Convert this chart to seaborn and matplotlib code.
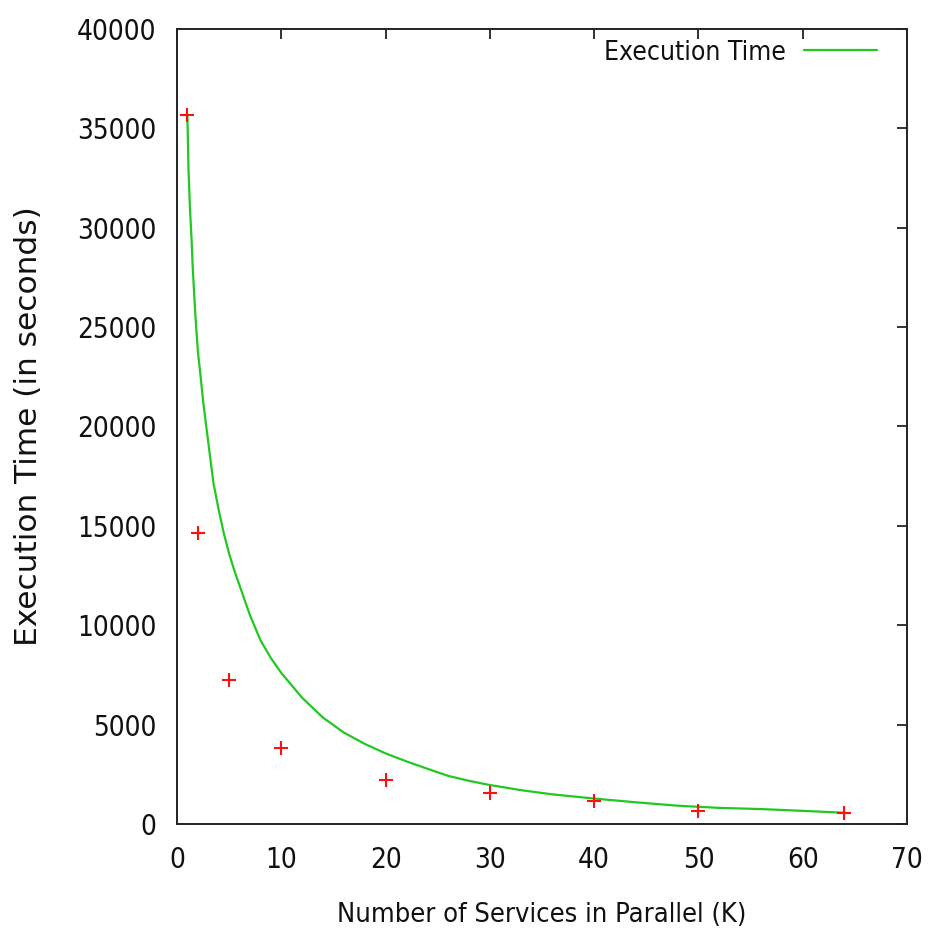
import matplotlib
matplotlib.use("Agg")
import matplotlib.pyplot as plt
import seaborn as sns
import pandas as pd

# Measured execution times for each number of parallel services (K)
services_k = [1, 2, 5, 10, 20, 30, 40, 50, 64]
measured_time = [35650, 14650, 7240, 3810, 2200, 1575, 1170, 655, 570]

# Fitted execution-time curve, sampled along K
curve_k = [1.0, 1.1, 1.25, 1.4, 1.5, 1.75, 2.0, 2.25, 2.5, 2.75, 3.0, 3.5,
           4.0, 4.5, 5.0, 5.5, 6.0, 6.5, 7.0, 8.0, 9.0, 10.0, 12.0, 14.0,
           16.0, 18.0, 20.0, 22.0, 24.0, 26.0, 28.0, 30.0, 33.0, 36.0, 40.0,
           44.0, 48.0, 52.0, 56.0, 60.0, 64.0]
curve_time = [35600, 33000, 30900, 29400, 28100, 25700, 23800, 22600, 21300,
              20250, 19200, 17150, 15800, 14600, 13600, 12750, 12000, 11250,
              10500, 9250, 8350, 7600, 6350, 5350, 4600, 4030, 3550, 3150,
              2780, 2420, 2170, 1960, 1700, 1490, 1280, 1090, 920, 810, 750,
              660, 565]

x_ticks = [0, 10, 20, 30, 40, 50, 60, 70]
y_ticks = [0, 5000, 10000, 15000, 20000, 25000, 30000, 35000, 40000]

sns.set_style("white")
plt.rcParams["font.family"] = ["DejaVu Sans"]
plt.rcParams["font.stretch"] = "condensed"

fig = plt.figure(figsize=(9.3, 9.34), dpi=100)
ax = fig.add_axes([0.1903, 0.1178, 0.7850, 0.8512])

points = pd.DataFrame({"K": services_k, "time": measured_time})
curve = pd.DataFrame({"K": curve_k, "time": curve_time})

sns.lineplot(data=curve, x="K", y="time", ax=ax, color="#22c822",
             linewidth=1.6, label="Execution Time", sort=False)
sns.scatterplot(data=points, x="K", y="time", ax=ax, marker="+", s=110,
                color="#ff1010", linewidth=1.5, legend=False, zorder=3)

ax.set_xlim(0, 70)
ax.set_ylim(0, 40000)
ax.set_xticks(x_ticks)
ax.set_yticks(y_ticks)
ax.set_xticklabels([str(v) for v in x_ticks])
ax.set_yticklabels([str(v) for v in y_ticks])

ax.tick_params(axis="both", which="both", direction="in", length=7, width=1.2,
               top=True, right=True, labelsize=20, colors="#111111")
ax.tick_params(axis="x", pad=16)
ax.tick_params(axis="y", pad=15)
for lab in ax.get_xticklabels() + ax.get_yticklabels():
    lab.set_fontstretch("condensed")

for sp in ax.spines.values():
    sp.set_color("#222222")
    sp.set_linewidth(1.4)

ax.set_xlabel("Number of Services in Parallel (K)", fontsize=19.5,
              fontstretch="condensed", color="#111111", labelpad=20)
ax.set_ylabel("Execution Time (in seconds)", fontsize=22.5,
              fontstretch="normal", color="#111111", labelpad=24)

leg = ax.legend(loc="upper right", bbox_to_anchor=(0.974, 1.0),
                frameon=False, markerfirst=False, handlelength=2.8,
                fontsize=19, borderaxespad=0.0, handletextpad=0.68)
for t in leg.get_texts():
    t.set_fontstretch("condensed")
    t.set_color("#111111")

fig.savefig("out.png", dpi=100)
